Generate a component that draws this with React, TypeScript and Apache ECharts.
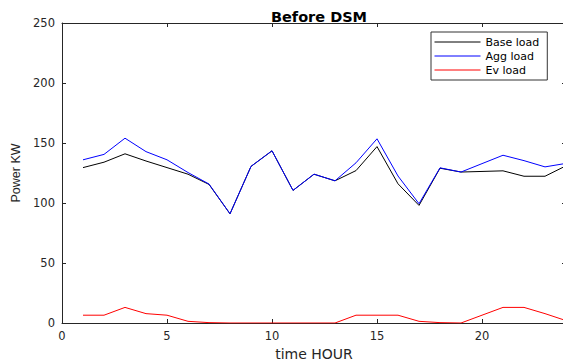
import React, { useEffect, useRef } from "react";
import * as echarts from "echarts";

const hours = [1, 2, 3, 4, 5, 6, 7, 8, 9, 10, 11, 12, 13, 14, 15, 16, 17, 18, 19, 20, 21, 22, 23, 24];
const baseLoad = [129.5, 134, 141, 135, 129.5, 124, 115.5, 91, 130.5, 143.5, 110.5, 124, 118.5, 127, 147, 116, 98, 129, 125.8, 126.3, 126.8, 122.3, 122.3, 131];
const aggLoad = [136, 140.5, 154, 142.8, 136, 125.4, 115.8, 91, 130.5, 143.5, 110.5, 124, 118.5, 133.5, 153.5, 122.5, 99.4, 129.3, 125.8, 132.8, 139.8, 135.3, 130.1, 133];
const evLoad = [6.5, 6.5, 13, 7.8, 6.5, 1.4, 0.3, 0, 0, 0, 0, 0, 0, 6.5, 6.5, 6.5, 1.4, 0.3, 0, 6.5, 13, 13, 7.8, 2];

const WIDE = "DejaVu Sans, sans-serif";
const ARIAL = "Liberation Sans, Arial, sans-serif";
const AXIS_COLOR = "#262626";

export default function App() {
  const ref = useRef<HTMLDivElement>(null);
  useEffect(() => {
    const chart = echarts.init(ref.current!, null, { renderer: "svg" });
    const pair = (ys: number[]) => hours.map((h, i) => [h, ys[i]]);
    const axisCommon = {
      axisLine: { show: true, onZero: false, lineStyle: { color: AXIS_COLOR, width: 1 } },
      axisTick: { show: true, inside: true, length: 4, lineStyle: { color: AXIS_COLOR } },
      splitLine: { show: false },
    };
    chart.setOption({
      animation: false,
      backgroundColor: "#fff",
      title: {
        text: "Before DSM",
        left: 314,
        top: 4,
        textAlign: "center",
        textStyle: { fontFamily: WIDE, fontSize: 14.5, fontWeight: "bold", color: "#000" },
      },
      legend: {
        orient: "vertical",
        left: 431,
        top: 32,
        padding: [3, 8, 3, 3],
        itemGap: 0,
        itemWidth: 46,
        itemHeight: 14,
        backgroundColor: "#fff",
        borderColor: "#333",
        borderWidth: 1,
        borderRadius: 0,
        itemStyle: { opacity: 0, borderWidth: 0 },
        lineStyle: { width: 1 },
        textStyle: { fontFamily: WIDE, fontSize: 11, lineHeight: 14, color: "#000" },
        data: ["Base load", "Agg load", "Ev load"],
      },
      grid: { left: 62, top: 23, width: 504, height: 300, containLabel: false, outerBoundsMode: "none" },
      xAxis: [
        {
          type: "value",
          min: 0,
          max: 24,
          interval: 5,
          ...axisCommon,
          axisLabel: { fontFamily: WIDE, fontSize: 11.5, color: AXIS_COLOR, margin: 7, showMaxLabel: false },
          name: "time HOUR",
          nameLocation: "middle",
          nameGap: 23,
          nameTextStyle: { fontFamily: WIDE, fontSize: 14, color: AXIS_COLOR },
        },
        {
          type: "value",
          position: "top",
          min: 0,
          max: 24,
          interval: 5,
          ...axisCommon,
          axisLabel: { show: false },
        },
      ],
      yAxis: [
        {
          type: "value",
          min: 0,
          max: 250,
          interval: 50,
          ...axisCommon,
          axisLabel: { fontFamily: WIDE, fontSize: 11.5, color: AXIS_COLOR, margin: 7 },
          name: "Power KW",
          nameLocation: "middle",
          nameGap: 40,
          nameTextStyle: { fontFamily: ARIAL, fontSize: 12.5, color: AXIS_COLOR },
        },
        {
          type: "value",
          position: "right",
          min: 0,
          max: 250,
          interval: 50,
          ...axisCommon,
          axisLabel: { show: false },
        },
      ],
      series: [
        {
          name: "Base load",
          type: "line",
          data: pair(baseLoad),
          showSymbol: false,
          symbol: "none",
          lineStyle: { color: "#000", width: 1 },
          itemStyle: { color: "#000" },
        },
        {
          name: "Agg load",
          type: "line",
          data: pair(aggLoad),
          showSymbol: false,
          symbol: "none",
          lineStyle: { color: "#0000ff", width: 1 },
          itemStyle: { color: "#0000ff" },
        },
        {
          name: "Ev load",
          type: "line",
          data: pair(evLoad),
          showSymbol: false,
          symbol: "none",
          lineStyle: { color: "#ff0000", width: 1 },
          itemStyle: { color: "#ff0000" },
        },
      ],
    });
    return () => chart.dispose();
  }, []);
  return <div ref={ref} style={{ width: 563, height: 362, position: "absolute", left: 0, top: 0 }} />;
}
